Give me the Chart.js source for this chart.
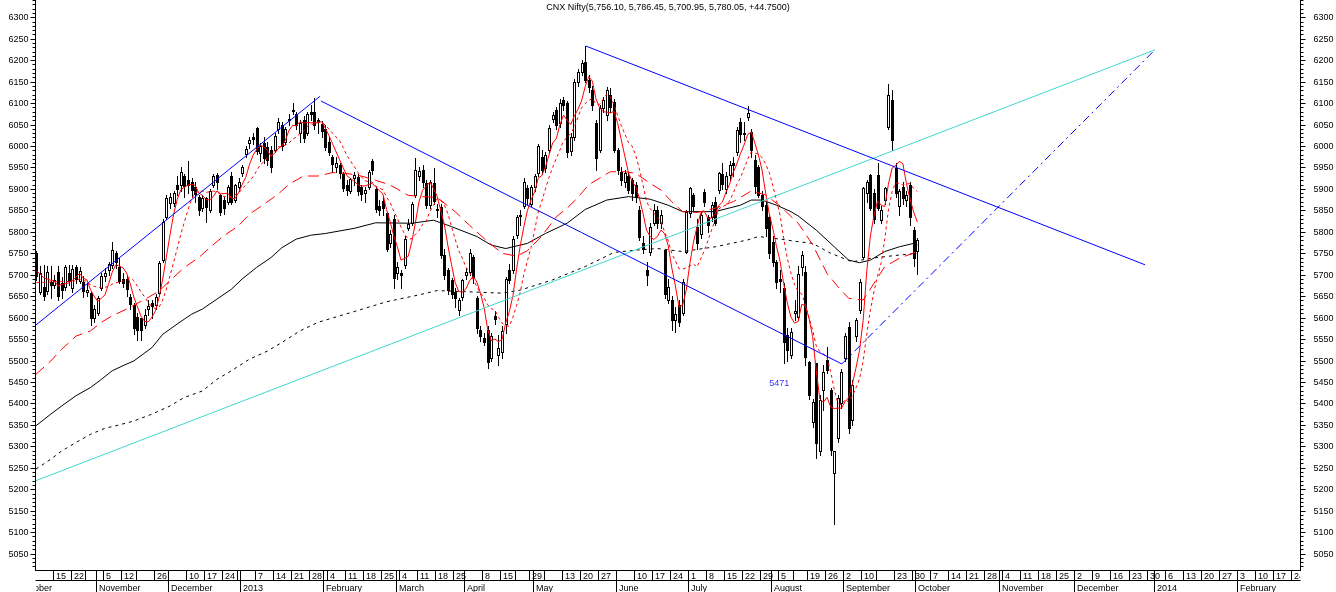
<!DOCTYPE html>
<html><head><meta charset="utf-8">
<script src="https://cdn.jsdelivr.net/npm/chart.js@4.4.1/dist/chart.umd.min.js"></script>
<style>html,body{margin:0;padding:0;background:#fff;overflow:hidden}canvas{display:block}</style>
</head><body>
<canvas id="c" width="1336" height="592"></canvas>
<script>
const chartTitle = 'CNX Nifty(5,756.10, 5,786.45, 5,700.95, 5,780.05, +44.7500)';

// daily candles, index 0 = 8 Oct 2012 ... 244 = 1 Oct 2013
const opens = [5750,5660,5672,5662,5682,5677,5706,5680,5672,5705,
5668,5717,5686,5682,5660,5657,5600,5610,5670,5696,
5712,5722,5750,5719,5690,5689,5649,5630,5602,5598,
5583,5620,5635,5630,5657,5735,5835,5867,5868,5909,
5909,5930,5920,5915,5905,5880,5855,5878,5850,5910,
5932,5885,5875,5870,5930,5875,5905,5937,5982,6006,
6020,6042,5983,6007,5998,5990,5990,6040,6050,6010,
6060,6084,6075,6030,6060,6030,6080,6080,6060,6052,
6040,6010,5975,5950,5955,5935,5910,5895,5925,5928,
5905,5890,5905,5965,5900,5860,5872,5843,5775,5830,
5705,5705,5722,5810,5820,5886,5930,5945,5913,5862,
5913,5850,5858,5746,5711,5688,5660,5618,5649,5699,
5707,5742,5645,5571,5552,5571,5505,5604,5513,5520,
5585,5711,5711,5793,5840,5859,5901,5865,5905,5936,
5975,5948,5991,6064,6084,6053,6108,6100,5988,6022,
6150,6173,6196,6154,6131,6053,5991,6088,6072,6120,
6103,5991,5940,5915,5929,5920,5909,5851,5773,5711,
5754,5820,5851,5820,5757,5641,5641,5595,5629,5610,
5754,5843,5886,5812,5796,5893,5835,5835,5870,5897,
5935,5900,5932,5960,5987,6056,6029,6068,6033,5967,
5951,5886,5862,5835,5777,5730,5690,5668,5560,5513,
5610,5602,5719,5707,5497,5357,5494,5288,5431,5501,
5431,5237,5319,5400,5505,5579,5361,5556,5618,5742,
5890,5932,5890,5932,5828,5874,6045,6107,5948,5859,
5905,5875,5909,5804,5756.1];
const highs = [5755,5720,5722,5720,5720,5700,5720,5695,5722,5722,
5722,5722,5718,5696,5680,5662,5630,5650,5705,5715,
5730,5777,5755,5740,5705,5700,5655,5635,5610,5600,
5620,5640,5642,5655,5732,5830,5885,5890,5895,5930,
5950,5935,5965,5925,5915,5885,5885,5882,5900,5935,
5938,5888,5880,5910,5940,5912,5925,5955,6000,6020,
6030,6045,6007,6020,6010,6000,6030,6065,6055,6045,
6075,6100,6080,6060,6070,6080,6095,6111,6065,6058,
6050,6020,5980,5975,5960,5940,5920,5925,5940,5935,
5910,5905,5945,5970,5905,5875,5880,5845,5805,5840,
5730,5710,5790,5830,5870,5971,5950,5955,5920,5920,
5948,5865,5865,5760,5715,5692,5670,5645,5690,5715,
5760,5745,5650,5580,5565,5580,5565,5615,5560,5580,
5695,5725,5790,5840,5850,5925,5910,5910,5935,6005,
5990,5985,6050,6080,6090,6110,6115,6105,6030,6155,
6180,6200,6233,6165,6140,6060,6095,6115,6138,6135,
6110,5995,5950,5945,5940,5925,5915,5860,5790,5730,
5820,5865,5860,5850,5760,5690,5650,5625,5640,5690,
5850,5905,5890,5830,5845,5900,5840,5870,5880,5940,
5960,5940,5965,5975,6045,6066,6056,6093,6040,5980,
5955,5895,5870,5840,5790,5735,5710,5680,5575,5575,
5640,5720,5755,5720,5500,5410,5495,5420,5490,5532,
5435,5290,5420,5480,5565,5590,5455,5600,5690,5905,
5920,5935,5900,5960,5860,5905,6145,6130,5960,5900,
5915,5895,5915,5812,5786.45];
const lows = [5688,5655,5641,5655,5645,5668,5640,5645,5665,5675,
5660,5680,5680,5648,5650,5583,5590,5605,5665,5685,
5700,5715,5715,5680,5672,5650,5620,5562,5548,5548,
5575,5605,5600,5620,5650,5730,5830,5855,5860,5885,
5895,5880,5890,5880,5870,5840,5848,5823,5845,5905,
5900,5840,5842,5865,5865,5870,5895,5930,5975,5995,
6005,5981,5964,5960,5955,5940,5985,6030,5990,6005,
6050,6075,6040,6010,6010,6025,6060,6040,6030,6020,
5990,5980,5940,5940,5925,5895,5885,5890,5910,5885,
5875,5870,5900,5935,5845,5840,5840,5755,5765,5670,
5690,5670,5715,5805,5815,5880,5920,5905,5855,5855,
5865,5835,5740,5690,5655,5645,5625,5605,5640,5690,
5700,5680,5565,5545,5535,5482,5500,5585,5490,5505,
5565,5680,5705,5785,5815,5855,5865,5860,5895,5930,
5935,5940,5985,6055,6040,6045,6085,5975,5980,6015,
6140,6165,6150,6125,6085,5945,5985,6080,6060,6080,
5985,5935,5910,5905,5890,5875,5870,5780,5750,5675,
5745,5815,5810,5810,5645,5635,5571,5566,5580,5605,
5750,5835,5850,5760,5785,5860,5800,5825,5815,5890,
5900,5890,5920,5930,5980,6010,6015,6060,5975,5890,
5880,5850,5790,5740,5720,5670,5660,5494,5500,5505,
5595,5595,5700,5490,5410,5345,5272,5280,5385,5470,
5280,5118,5310,5390,5500,5330,5350,5545,5610,5738,
5870,5850,5820,5850,5820,5865,6040,5990,5880,5840,
5865,5860,5815,5720,5700.95];
const closes = [5698,5705,5650,5707,5676,5688,5650,5665,5718,5686,
5714,5690,5708,5662,5665,5598,5619,5645,5697,5704,
5724,5758,5730,5686,5680,5667,5631,5575,5572,5571,
5606,5627,5627,5647,5727,5824,5878,5882,5890,5900,
5940,5907,5908,5898,5888,5851,5879,5857,5896,5929,
5916,5847,5855,5905,5870,5908,5915,5950,5993,6014,
6016,5988,6001,5971,5968,5951,6024,6056,6001,6039,
6064,6082,6048,6054,6019,6074,6074,6049,6055,6035,
5998,5987,5957,5960,5938,5903,5897,5922,5932,5896,
5887,5898,5939,5943,5852,5850,5855,5761,5796,5693,
5719,5699,5784,5819,5864,5945,5942,5915,5863,5915,
5872,5852,5746,5700,5664,5655,5645,5641,5688,5707,
5750,5695,5575,5556,5542,5497,5558,5596,5528,5568,
5689,5688,5783,5834,5836,5916,5878,5904,5930,5999,
5944,5979,6043,6072,6049,6100,6095,5985,6022,6150,
6173,6193,6154,6138,6096,5971,6088,6107,6131,6090,
5991,5944,5921,5936,5897,5890,5882,5789,5761,5699,
5812,5851,5820,5840,5656,5672,5594,5609,5590,5682,
5847,5901,5859,5773,5839,5870,5816,5862,5820,5936,
5912,5929,5956,5956,6038,6029,6031,6078,5991,5907,
5886,5860,5808,5750,5730,5684,5685,5544,5525,5567,
5616,5702,5746,5509,5420,5404,5307,5408,5474,5478,
5291,5288,5412,5474,5556,5342,5443,5594,5684,5901,
5917,5855,5831,5855,5851,5901,6119,6014,5890,5894,
5878,5885,5835,5738,5780.05];

// red solid line (short average), one value per candle
const redSolid = [5709,5702,5693,5690,5687,5685,5674,5677,5679,5681,
5687,5695,5703,5692,5688,5665,5650,5638,5645,5653,
5678,5706,5723,5720,5716,5704,5679,5648,5625,5603,
5591,5590,5601,5616,5647,5690,5741,5792,5840,5875,
5898,5904,5909,5911,5908,5890,5885,5875,5874,5882,
5895,5889,5889,5890,5879,5877,5891,5910,5927,5956,
5978,5992,6002,5998,5989,5976,5983,5994,6000,6014,
6037,6048,6047,6057,6053,6055,6054,6054,6054,6057,
6042,6025,6006,5987,5968,5949,5931,5924,5918,5910,
5907,5907,5910,5913,5904,5896,5888,5852,5823,5791,
5765,5734,5738,5743,5777,5822,5871,5897,5906,5916,
5901,5883,5850,5817,5767,5723,5682,5661,5659,5667,
5686,5696,5683,5657,5624,5573,5546,5550,5544,5549,
5588,5614,5651,5712,5766,5811,5849,5874,5893,5925,
5931,5951,5979,6007,6017,6049,6072,6060,6050,6070,
6085,6105,6138,6162,6151,6110,6089,6080,6079,6077,
6081,6053,6015,5976,5938,5918,5905,5879,5844,5804,
5789,5782,5789,5804,5796,5768,5716,5674,5624,5629,
5664,5726,5776,5812,5844,5848,5831,5832,5841,5861,
5869,5892,5911,5938,5958,5982,6002,6026,6033,6007,
5979,5944,5890,5842,5807,5766,5731,5679,5634,5601,
5587,5591,5631,5628,5599,5556,5477,5410,5403,5414,
5392,5388,5389,5389,5404,5414,5445,5482,5524,5593,
5708,5790,5838,5872,5862,5859,5911,5948,5955,5964,
5959,5912,5876,5846,5823];
// red dotted line (medium average), one value per candle
const redDotted = [5682,5682,5682,5683,5683,5683,5684,5684,5684,5684,
5686,5685,5690,5686,5685,5676,5673,5671,5669,5671,
5672,5678,5681,5683,5685,5691,5693,5686,5673,5660,
5648,5635,5625,5621,5625,5641,5666,5697,5728,5761,
5794,5823,5851,5876,5892,5894,5895,5892,5893,5895,
5893,5887,5882,5882,5881,5886,5890,5900,5909,5918,
5928,5942,5956,5963,5973,5977,5988,5998,5999,6002,
6007,6016,6021,6029,6034,6046,6051,6051,6056,6055,
6049,6040,6030,6021,6013,5996,5978,5965,5953,5939,
5928,5919,5917,5916,5907,5902,5898,5881,5868,5848,
5831,5811,5795,5783,5784,5794,5803,5818,5825,5847,
5862,5877,5874,5862,5842,5812,5783,5756,5738,5717,
5705,5689,5672,5658,5646,5630,5621,5617,5601,5587,
5581,5580,5601,5628,5658,5700,5732,5763,5803,5846,
5871,5900,5927,5950,5971,5990,6012,6020,6029,6044,
6067,6089,6099,6106,6111,6098,6097,6109,6121,6114,
6096,6071,6048,6028,6008,6000,5979,5947,5910,5871,
5854,5844,5834,5824,5800,5779,5749,5732,5714,5713,
5716,5721,5725,5718,5737,5756,5779,5804,5827,5853,
5859,5862,5872,5890,5910,5926,5947,5969,5986,5983,
5981,5973,5958,5938,5907,5873,5838,5785,5738,5704,
5677,5661,5655,5631,5600,5572,5534,5521,5516,5507,
5474,5433,5400,5396,5409,5403,5417,5436,5457,5499,
5561,5618,5660,5698,5728,5784,5851,5893,5914,5913,
5909,5912,5912,5901,5894];
// red long-dash line
const redDashX = [-0.1,4,7,11,15,18,21,25,31,34,37,41,45,48,52,56,59,63,67,70,74,78,82,86,90,94,98,103,107,111,116,120,125,129,133,136,140,144,147,150,153,156,159,163,166,170,173,176,179,183,188,193,198,202,206,211,215,219,222,225,229,232,235,239,244];
const redDashY = [5468,5499,5526,5557,5569,5589,5604,5620,5647,5662,5686,5717,5740,5763,5791,5814,5841,5864,5888,5911,5930,5930,5938,5936,5930,5920,5909,5885,5882,5880,5847,5815,5777,5750,5743,5756,5790,5835,5855,5880,5910,5925,5940,5940,5936,5913,5897,5870,5847,5845,5855,5870,5895,5886,5860,5820,5770,5703,5672,5645,5641,5680,5719,5738,5754];
// black solid line
const blackSolidX = [-0.1,4,7,11,15,18,21,24,27,32,35,39,43,46,50,54,57,61,65,68,72,76,80,88,94,104,110,115,122,126,130,136,141,147,152,158,164,170,175,179,188,195,198,201,205,209,211,216,221,225,228,231,235,239,243,244];
const blackSolidY = [5348,5375,5394,5418,5437,5456,5476,5488,5499,5530,5561,5585,5608,5620,5643,5666,5690,5717,5740,5763,5783,5792,5796,5808,5821,5820,5827,5812,5789,5769,5761,5773,5796,5820,5852,5874,5882,5876,5862,5847,5847,5862,5874,5874,5862,5847,5837,5804,5765,5734,5728,5734,5754,5765,5773,5769];
// black dotted line
const blackDotX = [-0.1,4,7,11,15,19,23,27,32,37,41,46,50,54,59,64,68,73,78,88,97,106,111,120,129,134,143,152,160,167,172,179,188,197,200,206,211,215,220,226,231,237,244];
const blackDotY = [5247,5270,5289,5309,5328,5342,5350,5359,5375,5394,5414,5429,5456,5476,5503,5522,5542,5569,5589,5614,5637,5653,5663,5660,5657,5664,5688,5719,5752,5758,5761,5754,5765,5781,5789,5783,5777,5773,5750,5730,5738,5744,5750];
// drawn trend lines (start, end)
const blueUpX = [-0.1, 78.6],   blueUpY = [5583, 6116];
const blueLowX = [78.8, 223.1], blueLowY = [6105, 5492];
const blueTopX = [152.2, 307.1], blueTopY = [6233, 5723];
const cyanX = [-0.1, 309.8],    cyanY = [5220, 6224];
const dashDotX = [223.1, 309.8], dashDotY = [5492, 6224];
// annotation
const noteX = [203], noteY = [5447], noteText = ['5471'];

// axis labels
const yLabels = [5050,5100,5150,5200,5250,5300,5350,5400,5450,5500,5550,5600,5650,5700,5750,5800,5850,5900,5950,6000,6050,6100,6150,6200,6250,6300];
const weekIdx = [5,10,14,19,24,28,33,37,42,47,52,56,61,66,71,76,81,86,91,96,101,106,111,116,119,124,129,133,137,141,146,151,156,161,166,171,176,181,186,191,196,201,206,210,214,219,224,229,233,238,243,248,253,258,263,268,273,278,283,288,293,298,303,308,313,318,323,328,333,338,343,348];
const weekLbl = ['15','22','','5','12','','26','','10','17','24','','7','14','21','28','4','11','18','25','4','11','18','25','','8','15','','29','','13','20','27','','10','17','24','1','8','15','22','29','5','','19','26','2','10','','23','30','7','14','21','28','4','11','18','25','2','9','16','23','30','6','13','20','27','3','10','17','24'];
const monthIdx = [-5,17,37,57,80,100,119,138,161,181,204,224,244,267,288,310,333];
const monthLbl = ['October','November','December','2013','February','March','April','May','June','July','August','September','October','November','December','2014','February'];

const FONT = '9px "Liberation Sans", Arial, sans-serif';
const zip = (xs, ys) => xs.map((x, k) => ({x: x, y: ys[k]}));
const byIndex = arr => arr.map((v, i) => ({x: i, y: v}));

const candlePlugin = {
  id: 'candles',
  beforeDatasetsDraw(chart) {
    const c = chart.ctx, xs = chart.scales.x, ys = chart.scales.y, a = chart.chartArea;
    c.save();
    c.beginPath(); c.rect(a.left, a.top, a.right - a.left, a.bottom - a.top); c.clip();
    c.lineWidth = 1; c.strokeStyle = '#000';
    for (let i = 0; i < closes.length; i++) {
      const cx = Math.round(xs.getPixelForValue(i));
      const yh = Math.round(ys.getPixelForValue(highs[i]));
      const yl = Math.round(ys.getPixelForValue(lows[i]));
      const yo = Math.round(ys.getPixelForValue(opens[i]));
      const yc = Math.round(ys.getPixelForValue(closes[i]));
      c.beginPath(); c.moveTo(cx + 0.5, yh); c.lineTo(cx + 0.5, yl + 1); c.stroke();
      const top = Math.min(yo, yc), bot = Math.max(yo, yc);
      const h = Math.max(bot - top, 1);
      if (closes[i] >= opens[i]) {
        c.fillStyle = '#fff'; c.fillRect(cx - 1, top, 3, h + 1);
        c.strokeRect(cx - 0.5, top + 0.5, 2, h);
      } else {
        c.fillStyle = '#000'; c.fillRect(cx - 1, top, 3, h + 1);
      }
    }
    c.restore();
  }
};

const axesPlugin = {
  id: 'axes',
  beforeDraw(chart) {
    const c = chart.ctx; c.save(); c.fillStyle = '#fff'; c.fillRect(0, 0, chart.width, chart.height); c.restore();
  },
  afterDraw(chart) {
    const c = chart.ctx, xs = chart.scales.x, ys = chart.scales.y, a = chart.chartArea;
    c.save();
    c.strokeStyle = '#000'; c.fillStyle = '#000'; c.lineWidth = 1;
    const L = a.left - 0.5, R = a.right + 0.5, B = a.bottom + 0.5;
    c.beginPath();
    c.moveTo(L, a.top); c.lineTo(L, a.bottom + 1);
    c.moveTo(R, a.top); c.lineTo(R, a.bottom + 1);
    c.moveTo(L, B); c.lineTo(R, B);
    c.moveTo(L, B + 10); c.lineTo(R, B + 10);
    for (let v = Math.ceil(ys.min / 10) * 10; v <= ys.max; v += 10) {
      const yy = Math.round(ys.getPixelForValue(v)) + 0.5;
      const len = (v % 50 === 0) ? 5 : 3;
      c.moveTo(L, yy); c.lineTo(L - len, yy);
      c.moveTo(R, yy); c.lineTo(R + len, yy);
    }
    c.stroke();
    c.font = FONT; c.textBaseline = 'middle';
    yLabels.forEach(v => {
      const yy = Math.round(ys.getPixelForValue(v)) + 0.5;
      c.textAlign = 'right'; c.fillText(String(v), L - 7, yy);
      c.textAlign = 'left'; c.fillText(String(v), R + 13, yy);
    });
    // date axis
    c.save();
    c.beginPath(); c.rect(a.left, B, a.right - a.left, chart.height - B); c.clip();
    c.beginPath();
    weekIdx.forEach(ix => {
      const px = Math.round(xs.getPixelForValue(ix - 0.5)) + 0.5;
      c.moveTo(px, B); c.lineTo(px, B + 10);
    });
    monthIdx.forEach(ix => {
      const px = Math.round(xs.getPixelForValue(ix - 0.5)) + 0.5;
      c.moveTo(px, B); c.lineTo(px, chart.height);
    });
    c.stroke();
    c.textAlign = 'left'; c.textBaseline = 'alphabetic';
    weekIdx.forEach((ix, k) => {
      if (!weekLbl[k]) return;
      const px = Math.round(xs.getPixelForValue(ix - 0.5));
      c.fillText(weekLbl[k], px + 3, B + 8.5);
    });
    monthIdx.forEach((ix, k) => {
      const px = Math.round(xs.getPixelForValue(ix - 0.5));
      c.fillText(monthLbl[k], px + 3, B + 20);
    });
    c.restore();
    // title
    c.textAlign = 'center'; c.textBaseline = 'alphabetic';
    c.fillText(chartTitle, (a.left + a.right) / 2, 10);
    // note
    c.fillStyle = '#3535ff'; c.textAlign = 'left'; c.textBaseline = 'middle';
    noteText.forEach((t, k) => c.fillText(t, xs.getPixelForValue(noteX[k]), ys.getPixelForValue(noteY[k])));
    c.restore();
  }
};

const line = (data, color, dash) => ({
  data: data, borderColor: color, borderWidth: 1, borderDash: dash || [],
  pointRadius: 0, fill: false, tension: 0
});

new Chart(document.getElementById('c'), {
  type: 'line',
  data: {
    datasets: [
      line(zip(blueUpX, blueUpY), '#0000ff'),
      line(zip(blueLowX, blueLowY), '#0000ff'),
      line(zip(blueTopX, blueTopY), '#0000ff'),
      line(zip(cyanX, cyanY), '#40d8cc'),
      line(zip(dashDotX, dashDotY), '#0000ff', [8, 4, 2, 4]),
      line(byIndex(redSolid), '#ff0000'),
      line(byIndex(redDotted), '#ff0000', [3, 3]),
      line(zip(redDashX, redDashY), '#ff0000', [11, 6]),
      line(zip(blackSolidX, blackSolidY), '#000000'),
      line(zip(blackDotX, blackDotY), '#000000', [3, 4])
    ]
  },
  options: {
    responsive: false, animation: false, devicePixelRatio: 1,
    layout: {padding: {left: 36, right: 36, top: 0, bottom: 22}},
    plugins: {legend: {display: false}, tooltip: {enabled: false}, title: {display: false}},
    scales: {
      x: {type: 'linear', min: -0.1, max: 350, display: false},
      y: {type: 'linear', min: 5011.7, max: 6340.3, display: false}
    }
  },
  plugins: [candlePlugin, axesPlugin]
});
</script>
</body></html>
